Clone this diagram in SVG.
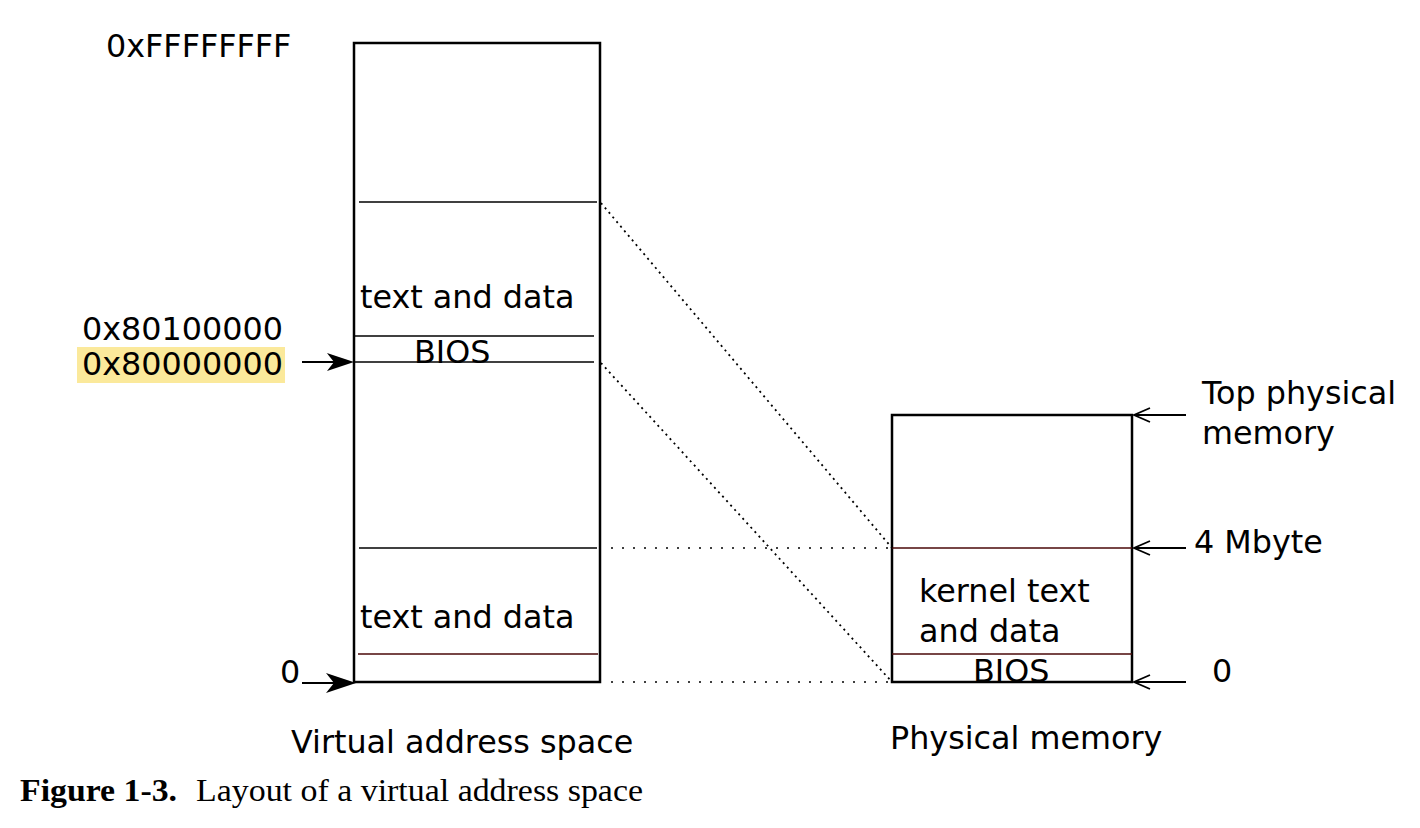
<svg xmlns="http://www.w3.org/2000/svg" width="1420" height="828" viewBox="0 0 1420 828">
<style>
.t{font-family:"DejaVu Sans",sans-serif;font-size:31.8px;fill:#000}
.cap{font-family:"Liberation Serif",serif;font-size:32px;fill:#000}
.box{fill:none;stroke:#000;stroke-width:2.5}
.div{stroke:#000;stroke-width:1.3}
.red{stroke:#4a0808;stroke-width:1.5}
.dot{stroke:#000;stroke-width:1.8;stroke-dasharray:2 4;fill:none}
.sdot{stroke:#000;stroke-width:1.5;stroke-dasharray:2 9;fill:none}
.arr{stroke:#000;stroke-width:1.8;fill:none}
.head{fill:#000}
</style>
<rect width="1420" height="828" fill="#fff"/>
<g id="virtual">
<rect class="box" x="354" y="43" width="246" height="639"/>
<line class="div" x1="359" y1="202" x2="597" y2="202"/>
<line class="div" x1="355" y1="336" x2="594" y2="336"/>
<line class="div" x1="355" y1="362" x2="594" y2="362"/>
<line class="div" x1="359" y1="548" x2="597" y2="548"/>
<line class="red" x1="358" y1="654" x2="598" y2="654"/>
<text class="t" x="360" y="308">text and data</text>
<text class="t" x="414" y="363">BIOS</text>
<text class="t" x="360" y="628">text and data</text>
<text class="t" x="291" y="753">Virtual address space</text>
</g>
<g id="labels-left">
<text class="t" x="106" y="57">0xFFFFFFFF</text>
<text class="t" x="82" y="340">0x80100000</text>
<rect x="77" y="347" width="208" height="36" fill="#fbe99b"/>
<text class="t" x="82" y="375">0x80000000</text>
<text class="t" x="280" y="683">0</text>
</g>
<g id="physical">
<rect class="box" x="892" y="415" width="240" height="267"/>
<line class="red" x1="892" y1="548" x2="1132" y2="548"/>
<line class="red" x1="892" y1="654" x2="1132" y2="654"/>
<text class="t" x="919" y="602">kernel text</text>
<text class="t" x="919" y="642">and data</text>
<text class="t" x="973" y="682">BIOS</text>
<text class="t" x="890" y="749">Physical memory</text>
</g>
<g id="labels-right">
<text class="t" x="1202" y="404">Top physical</text>
<text class="t" x="1202" y="444">memory</text>
<text class="t" x="1194" y="553">4 Mbyte</text>
<text class="t" x="1212" y="682">0</text>
</g>
<g id="connectors">
<line class="dot" x1="601" y1="203" x2="892" y2="548"/>
<line class="dot" x1="601" y1="363" x2="892" y2="682"/>
<line class="sdot" x1="611" y1="548" x2="892" y2="548"/>
<line class="sdot" x1="611" y1="682" x2="892" y2="682"/>
<line class="arr" x1="302" y1="362" x2="340" y2="362"/>
<path class="head" d="M354,362 L327,353 L334,362 L327,371 Z"/>
<line class="arr" x1="302" y1="683" x2="340" y2="683"/>
<path class="head" d="M356,683 L326,673 L334,683 L326,693 Z"/>
<line class="arr" x1="1186" y1="415" x2="1135" y2="415"/>
<path class="arr" d="M1150,408 L1134,415 L1150,422"/>
<line class="arr" x1="1186" y1="548" x2="1135" y2="548"/>
<path class="arr" d="M1150,541 L1134,548 L1150,555"/>
<line class="arr" x1="1186" y1="682" x2="1135" y2="682"/>
<path class="arr" d="M1150,675 L1134,682 L1150,689"/>
</g>
<g id="caption">
<text class="cap" x="20" y="801"><tspan font-weight="bold" textLength="157" lengthAdjust="spacingAndGlyphs">Figure 1-3.</tspan><tspan x="196" textLength="447" lengthAdjust="spacingAndGlyphs">Layout of a virtual address space</tspan></text>
</g>
</svg>
